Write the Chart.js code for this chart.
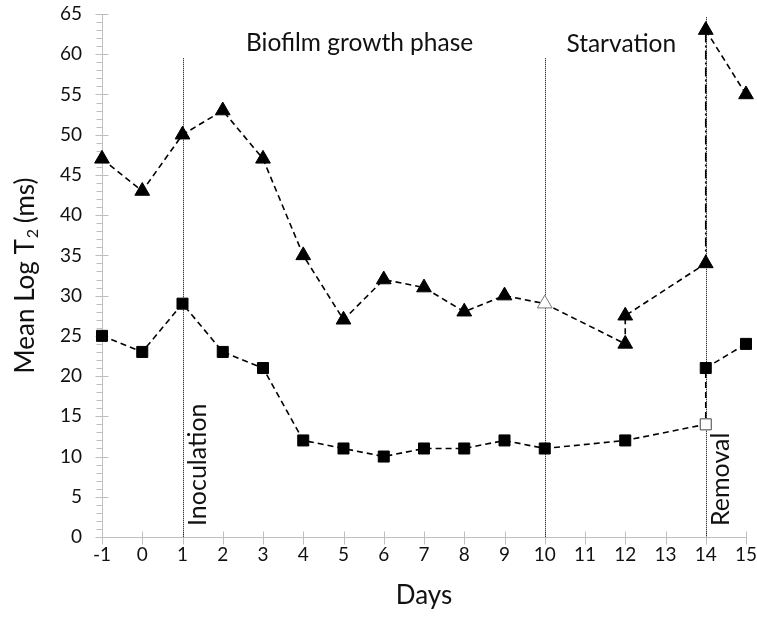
<!DOCTYPE html>
<html>
<head>
<meta charset="utf-8">
<script src="https://cdn.jsdelivr.net/npm/chart.js@4.4.1/dist/chart.umd.min.js"></script>
<style>
  html, body { margin: 0; padding: 0; background: #fff; }
</style>
</head>
<body>
<canvas id="t2Chart" width="757" height="618"></canvas>
<script>
// Triangle series (upper curve)
const triDays = [-1, 0, 1, 2, 3, 4, 5, 6, 7, 8, 9, 10, 12, 12, 14, 14, 15];
const triValues = [47, 43, 50, 53, 47, 35, 27, 32, 31, 28, 30, 29, 24, 27.5, 34, 63, 55];
const triHollow = [10];

// Square series (lower curve)
const sqDays = [-1, 0, 1, 2, 3, 4, 5, 6, 7, 8, 9, 10, 12, 14, 14, 15];
const sqValues = [25, 23, 29, 23, 21, 12, 11, 10, 11, 11, 12, 11, 12, 14, 21, 24];
const sqHollow = [13];

// event markers: day, top of the dotted line, label
const eventDays = [1, 10, 14];
const eventTops = [59.5, 59.5, 64.6];
const eventLabels = ["Inoculation", "", "Removal"];

const phaseLabels = ["Biofilm growth phase", "Starvation"];

const xTicks = [-1, 0, 1, 2, 3, 4, 5, 6, 7, 8, 9, 10, 11, 12, 13, 14, 15];
const yMax = 65;

const FONT = "Lato, 'Open Sans', sans-serif";
const AXIS_GREY = "#bfbfbf";

function toPoints(days, values) {
  return days.map((d, i) => ({ x: d, y: values[i] }));
}

const dashed = [6, 4];
const dashDot = [9, 3, 2, 3];

// ticks, event lines and text labels
const decorations = {
  id: "decorations",
  beforeDatasetsDraw(chart) {
    const { ctx, scales: { x, y } } = chart;
    ctx.save();
    ctx.strokeStyle = AXIS_GREY;
    ctx.lineWidth = 1;
    ctx.beginPath();
    for (let v = 0; v <= yMax; v++) {
      const py = Math.round(y.getPixelForValue(v)) + 0.5;
      const px = Math.round(x.left) + 0.5;
      if (v % 5 === 0) {
        ctx.moveTo(px - 7, py);
        ctx.lineTo(px + 6, py);
      } else {
        ctx.moveTo(px - 6, py);
        ctx.lineTo(px, py);
      }
    }
    xTicks.forEach(d => {
      const px = Math.round(x.getPixelForValue(d)) + 0.5;
      const py = Math.round(y.bottom) + 0.5;
      ctx.moveTo(px, py - 6);
      ctx.lineTo(px, py + 7);
    });
    ctx.stroke();

    // dotted event lines
    ctx.strokeStyle = "#000";
    ctx.setLineDash([1, 1]);
    eventDays.forEach((d, i) => {
      const px = Math.round(x.getPixelForValue(d)) + 0.5;
      ctx.beginPath();
      ctx.moveTo(px, y.getPixelForValue(eventTops[i]));
      ctx.lineTo(px, y.bottom);
      ctx.stroke();
    });
    ctx.restore();
  },
  afterDraw(chart) {
    const { ctx, scales: { x, y } } = chart;
    ctx.save();
    ctx.fillStyle = "#111";

    ctx.font = "24.5px " + FONT;
    ctx.textAlign = "center";
    ctx.textBaseline = "middle";
    ctx.fillText(phaseLabels[0], x.getPixelForValue(5.4), y.getPixelForValue(61.4));
    ctx.fillText(phaseLabels[1], x.getPixelForValue(11.9), y.getPixelForValue(61.2));

    // rotated event labels
    ctx.font = "25px " + FONT;
    eventDays.forEach((d, i) => {
      if (!eventLabels[i]) return;
      ctx.save();
      ctx.translate(x.getPixelForValue(d) + 15, y.bottom - 11);
      ctx.rotate(-Math.PI / 2);
      ctx.textAlign = "left";
      ctx.textBaseline = "middle";
      ctx.fillText(eventLabels[i], 0, 0);
      ctx.restore();
    });

    // y axis title with subscript
    ctx.save();
    ctx.translate(26, (y.top + y.bottom) / 2);
    ctx.rotate(-Math.PI / 2);
    ctx.textBaseline = "middle";
    ctx.textAlign = "left";
    const big = "26px " + FONT;
    const small = "16px " + FONT;
    ctx.font = big;
    const a = "Mean Log T";
    const c = " (ms)";
    const wa = ctx.measureText(a).width;
    const wc = ctx.measureText(c).width;
    ctx.font = small;
    const wb = ctx.measureText("2").width;
    const start = -(wa + wb + wc) / 2;
    ctx.font = big;
    ctx.fillText(a, start, 0);
    ctx.font = small;
    ctx.fillText("2", start + wa + 1, 7);
    ctx.font = big;
    ctx.fillText(c, start + wa + wb, 0);
    ctx.restore();

    ctx.restore();
  }
};

new Chart(document.getElementById("t2Chart"), {
  type: "line",
  data: {
    datasets: [
      {
        label: "Triangles",
        data: toPoints(triDays, triValues),
        borderColor: "#000",
        borderWidth: 1.6,
        borderDash: dashed,
        segment: {
          borderDash: c => (c.p0.parsed.x === 14 && c.p1.parsed.x === 14 ? dashDot : dashed)
        },
        pointStyle: "triangle",
        pointRadius: 8.5,
        pointBackgroundColor: triDays.map(d => (triHollow.includes(d) ? "#fff" : "#000")),
        pointBorderColor: triDays.map(d => (triHollow.includes(d) ? "#777" : "#000")),
        pointBorderWidth: 1,
        tension: 0,
        clip: false
      },
      {
        label: "Squares",
        data: toPoints(sqDays, sqValues),
        borderColor: "#000",
        borderWidth: 1.6,
        borderDash: dashed,
        pointStyle: "rect",
        pointRadius: 7.8,
        pointBackgroundColor: sqDays.map((d, i) => (sqHollow.includes(i) ? "#fff" : "#000")),
        pointBorderColor: sqDays.map((d, i) => (sqHollow.includes(i) ? "#444" : "#000")),
        pointBorderWidth: 1,
        tension: 0,
        clip: false
      }
    ]
  },
  options: {
    responsive: false,
    animation: false,
    events: [],
    layout: { padding: { left: 0, right: 11, top: 14, bottom: 0 } },
    plugins: {
      legend: { display: false },
      tooltip: { enabled: false }
    },
    scales: {
      x: {
        type: "linear",
        min: -1,
        max: 15,
        afterBuildTicks: scale => {
          scale.ticks = xTicks.map(v => ({ value: v }));
        },
        ticks: {
          color: "#111",
          font: { family: FONT, size: 19 },
          padding: 6,
          maxRotation: 0
        },
        grid: { display: true, drawOnChartArea: false, drawTicks: false },
        border: { display: true, color: AXIS_GREY, width: 1 },
        title: {
          display: true,
          text: "Days",
          color: "#111",
          font: { family: FONT, size: 26 },
          padding: { top: 10, bottom: 7 }
        },
        afterFit: scale => {
          scale.height = 81;
          scale.paddingLeft = 0;
          scale.paddingRight = 0;
        }
      },
      y: {
        min: 0,
        max: yMax,
        ticks: {
          stepSize: 5,
          color: "#111",
          font: { family: FONT, size: 19 },
          padding: 20
        },
        grid: { display: true, drawOnChartArea: false, drawTicks: false },
        border: { display: true, color: AXIS_GREY, width: 1 },
        afterFit: scale => {
          scale.width = 102;
          scale.paddingTop = 0;
          scale.paddingBottom = 0;
        }
      }
    }
  },
  plugins: [decorations]
});
</script>
</body>
</html>
